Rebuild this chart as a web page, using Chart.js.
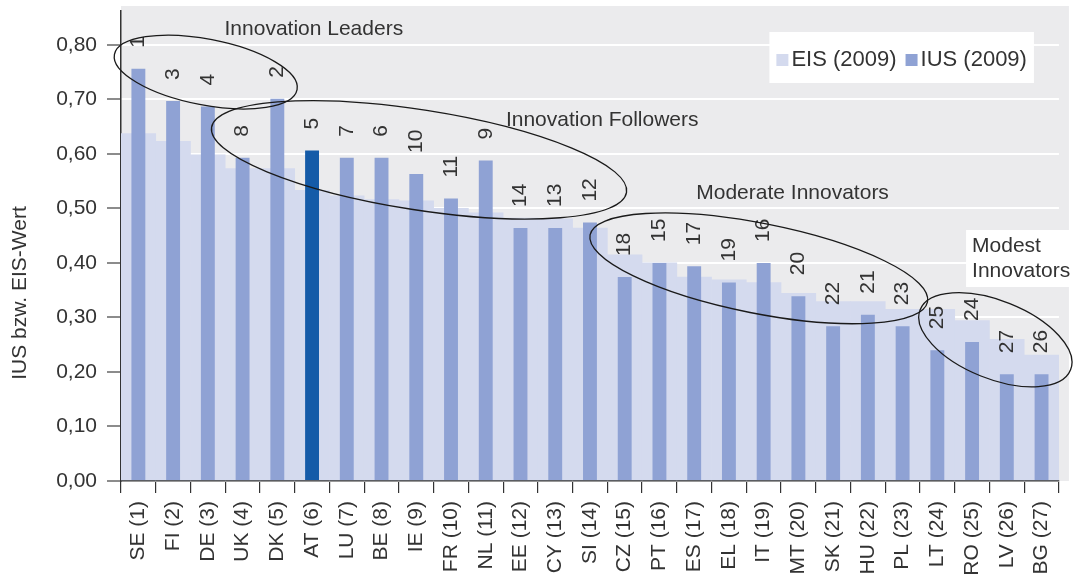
<!DOCTYPE html>
<html>
<head>
<meta charset="utf-8">
<script src="https://cdn.jsdelivr.net/npm/chart.js@4"></script>
<style>
  html, body { margin: 0; padding: 0; background: #fff; }
</style>
</head>
<body>
<canvas id="innoChart" width="1075" height="579"></canvas>
<script>
// data (EIS 2009 vs IUS 2009)
const categories = ['SE (1)', 'FI (2)', 'DE (3)', 'UK (4)', 'DK (5)', 'AT (6)', 'LU (7)', 'BE (8)', 'IE (9)',
  'FR (10)', 'NL (11)', 'EE (12)', 'CY (13)', 'SI (14)', 'CZ (15)', 'PT (16)', 'ES (17)', 'EL (18)',
  'IT (19)', 'MT (20)', 'SK (21)', 'HU (22)', 'PL (23)', 'LT (24)', 'RO (25)', 'LV (26)', 'BG (27)'];
const eisValues = [0.637, 0.623, 0.598, 0.573, 0.573, 0.533, 0.523, 0.516, 0.514, 0.500, 0.492, 0.482, 0.481,
  0.464, 0.415, 0.400, 0.374, 0.369, 0.364, 0.344, 0.329, 0.329, 0.315, 0.315, 0.294, 0.260, 0.231];
const iusValues = [0.756, 0.697, 0.687, 0.593, 0.701, 0.606, 0.593, 0.593, 0.563, 0.518, 0.588, 0.464, 0.464,
  0.474, 0.374, 0.400, 0.394, 0.364, 0.400, 0.339, 0.284, 0.305, 0.284, 0.240, 0.255, 0.196, 0.196];
const eisRanks = ['1', '3', '4', '8', '2', '5', '7', '6', '10', '11', '9', '14', '13', '12', '18', '15', '17',
  '19', '16', '20', '22', '21', '23', '25', '24', '27', '26'];
const yTicks = [0, 0.1, 0.2, 0.3, 0.4, 0.5, 0.6, 0.7, 0.8];
const highlight = 'AT (6)';

// group annotations: centre in category index / value units
const groupLabels = [
  { text: ['Innovation Leaders'], x: 2.48, y: 0.828 },
  { text: ['Innovation Followers'], x: 10.58, y: 0.662 },
  { text: ['Moderate Innovators'], x: 16.06, y: 0.528 },
  { text: ['Modest', 'Innovators'], x: 24.0, y: 0.431, box: true }
];
const groupRings = [
  { x: 1.94, y: 0.750, rx: 93, ry: 33, rot: 10.9 },
  { x: 8.08, y: 0.589, rx: 210, ry: 50, rot: 8.9 },
  { x: 17.86, y: 0.390, rx: 172, ry: 45, rot: 11.2 },
  { x: 24.67, y: 0.259, rx: 81, ry: 39, rot: 21.8 }
];

const FONT = '"Liberation Sans", Arial, sans-serif';
const TXT = '#333';
Chart.defaults.font.family = FONT;
Chart.defaults.font.size = 21;
Chart.defaults.color = TXT;

const decor = {
  id: 'decor',
  beforeDraw(chart) {
    const { ctx, chartArea: a } = chart;
    ctx.save();
    ctx.fillStyle = '#ebebed';
    ctx.fillRect(a.left, a.top - 5, a.right - a.left + 10, a.bottom - a.top + 5);
    ctx.restore();
  },
  afterDatasetsDraw(chart) {
    const { ctx, chartArea: a } = chart;
    const xs = chart.scales.x, ys = chart.scales.y;
    ctx.save();
    ctx.font = '21px ' + FONT;
    ctx.fillStyle = TXT;

    // rank numbers above the IUS bars
    const meta = chart.getDatasetMeta(1);
    meta.data.forEach((bar, i) => {
      ctx.save();
      ctx.translate(bar.x, bar.y - 21);
      ctx.rotate(-Math.PI / 2);
      ctx.textAlign = 'left';
      ctx.textBaseline = 'middle';
      ctx.fillText(eisRanks[i], 0, 0);
      ctx.restore();
    });

    // rings
    ctx.strokeStyle = '#1a1a1a';
    ctx.lineWidth = 1.3;
    groupRings.forEach(r => {
      ctx.beginPath();
      ctx.ellipse(xs.getPixelForValue(r.x), ys.getPixelForValue(r.y), r.rx, r.ry, r.rot * Math.PI / 180, 0, Math.PI * 2);
      ctx.stroke();
    });

    // group names
    ctx.textAlign = 'left';
    ctx.textBaseline = 'middle';
    groupLabels.forEach(g => {
      const x = xs.getPixelForValue(g.x);
      const y = ys.getPixelForValue(g.y);
      const lh = 25;
      if (g.box) {
        const w = Math.max(...g.text.map(t => ctx.measureText(t).width));
        ctx.fillStyle = '#fff';
        ctx.fillRect(x - 6, y - 16, w + 10, lh * (g.text.length - 1) + 32);
        ctx.fillStyle = TXT;
      }
      g.text.forEach((t, k) => ctx.fillText(t, x, y + k * lh));
    });

    // legend box
    ctx.font = '22px ' + FONT;
    const ds = chart.data.datasets;
    const widths = ds.map(d => ctx.measureText(d.label).width);
    const boxW = 7 + widths.reduce((s, w) => s + 12 + 3 + w, 0) + 9 * (ds.length - 1) + 7;
    const bx = a.right - 25 - boxW, by = a.top + 21;
    ctx.fillStyle = '#fff';
    ctx.fillRect(bx, by, boxW, 51);
    let cx = bx + 7;
    const cy = by + 28;
    ds.forEach((d, k) => {
      ctx.fillStyle = d.legendColor;
      ctx.fillRect(cx, cy - 6, 12, 12);
      cx += 15;
      ctx.fillStyle = TXT;
      ctx.fillText(d.label, cx, cy);
      cx += widths[k] + 9;
    });

    // y axis title
    ctx.font = '21px ' + FONT;
    ctx.save();
    ctx.translate(20, 293);
    ctx.rotate(-Math.PI / 2);
    ctx.textAlign = 'center';
    ctx.fillText('IUS bzw. EIS-Wert', 0, 0);
    ctx.restore();

    ctx.restore();
  }
};

new Chart(document.getElementById('innoChart').getContext('2d'), {
  type: 'bar',
  data: {
    labels: categories,
    datasets: [
      {
        label: 'EIS (2009)',
        data: eisValues,
        backgroundColor: '#d4daee',
        legendColor: '#d4daee',
        barPercentage: 1,
        categoryPercentage: 1,
        grouped: false,
        order: 2
      },
      {
        label: 'IUS (2009)',
        data: iusValues,
        backgroundColor: categories.map(c => c === highlight ? '#155ba8' : '#8fa2d4'),
        legendColor: '#8fa2d4',
        barPercentage: 0.4,
        categoryPercentage: 1,
        grouped: false,
        order: 1
      }
    ]
  },
  options: {
    responsive: false,
    animation: false,
    devicePixelRatio: 1,
    layout: { padding: { left: 0, top: 11, right: 13, bottom: 0 } },
    plugins: {
      legend: { display: false },
      tooltip: { enabled: false }
    },
    scales: {
      x: {
        grid: { offset: true, drawOnChartArea: false, color: '#333', tickLength: 12, lineWidth: 1.2 },
        border: { color: '#333', width: 1.5 },
        ticks: { minRotation: 90, maxRotation: 90, autoSkip: false, padding: 8, color: TXT },
        afterFit: s => { s.height = 98; }
      },
      y: {
        min: 0,
        max: 0.862,
        afterBuildTicks: s => { s.ticks = yTicks.map(v => ({ value: v })); },
        ticks: {
          padding: 10,
          color: TXT,
          font: { size: 21, lineHeight: 0.05 },
          callback: v => v.toFixed(2).replace('.', ',')
        },
        grid: { color: '#fff', lineWidth: 2, tickColor: '#666', tickLength: 14, tickWidth: 1.5 },
        border: { color: '#333', width: 1.5 },
        afterFit: s => { s.width = 121; }
      }
    }
  },
  plugins: [decor]
});
</script>
</body>
</html>
